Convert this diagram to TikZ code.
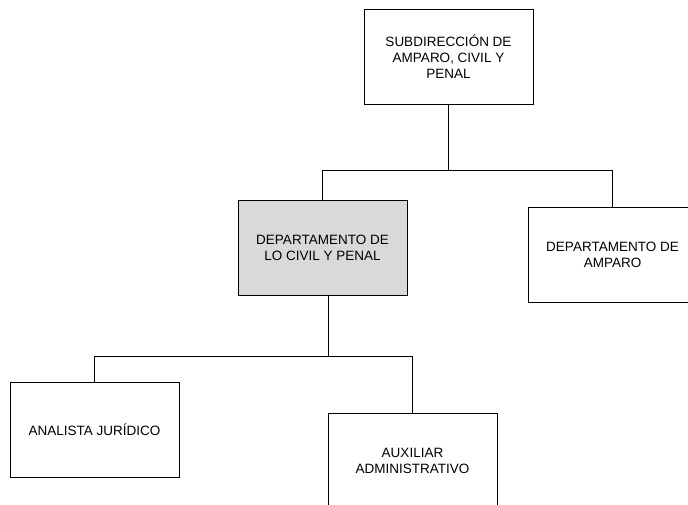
\documentclass[tikz,border=0pt]{standalone}
\usepackage{fontspec}
\setmainfont{Liberation Sans}
\definecolor{boxgray}{HTML}{D9D9D9}
\tikzset{
  orgbox/.style={draw, line width=0.9pt, minimum width=169pt, minimum height=95pt,
    align=center, inner sep=0pt, font=\fontsize{13.5}{16}\selectfont},
  link/.style={line width=0.9pt}
}
\begin{document}
\begin{tikzpicture}[x=1pt, y=-1pt]
  % Marco de la imagen
  \useasboundingbox (0,0) rectangle (688,504);
  \clip (0,0) rectangle (688,504);
  % Cajas
  \node[orgbox] (subd) at (448.5,56.5) {SUBDIRECCIÓN DE\\AMPARO, CIVIL Y\\PENAL};
  \node[orgbox, fill=boxgray] (dcp) at (322.5,248) {DEPARTAMENTO DE\\LO CIVIL Y PENAL};
  \node[orgbox] (damp) at (612.5,255) {DEPARTAMENTO DE\\AMPARO};
  \node[orgbox] (analista) at (94.5,429.5) {ANALISTA JURÍDICO};
  \node[orgbox] (auxiliar) at (412.5,460.5) {AUXILIAR\\ADMINISTRATIVO};
  % Conectores nivel 1
  \draw[link] (subd.south) -- ++(0,66) coordinate (bus1);
  \draw[link] (dcp.north) |- (bus1) -| (damp.north);
  % Conectores nivel 2
  \draw[link] ([xshift=5.5pt]dcp.south) -- ++(0,60) coordinate (bus2);
  \draw[link] (analista.north) |- (bus2) -| (auxiliar.north);
\end{tikzpicture}
\end{document}
